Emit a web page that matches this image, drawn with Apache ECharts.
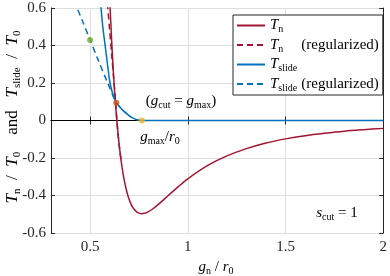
<!DOCTYPE html>
<html><head><meta charset="utf-8">
<script src="https://cdn.jsdelivr.net/npm/echarts@6/dist/echarts.min.js"></script>
<style>html,body{margin:0;padding:0;background:#fff}#c{width:390px;height:276px}</style>
</head><body><div id="c"></div>
<script>
// ---- data ----
const xTicks = [0.5, 1, 1.5, 2];
const yTicks = [-0.6, -0.4, -0.2, 0, 0.2, 0.4, 0.6];

// T_n / T_0 (solid)
const gN = [0.595,0.60,0.61,0.62,0.63,0.64,0.65,0.66,0.67,0.68,0.69,0.70,0.71,0.72,0.73,0.74,0.75,0.765,0.78,0.79,0.82,0.86,0.90,0.95,1.00,1.10,1.20,1.30,1.40,1.50,1.60,1.70,1.80,1.90,2.00];
const Tn = [0.80,0.66,0.432,0.243,0.089,-0.038,-0.141,-0.224,-0.291,-0.345,-0.388,-0.421,-0.447,-0.466,-0.479,-0.489,-0.494,-0.497,-0.494,-0.491,-0.472,-0.438,-0.400,-0.354,-0.311,-0.241,-0.189,-0.150,-0.120,-0.098,-0.081,-0.068,-0.057,-0.049,-0.042];

// T_n / T_0 (regularized, dashed)
const gNr = [0.58,0.59,0.60,0.61,0.62,0.631,0.64,0.65,0.66];
const TNr = [0.73,0.607,0.482,0.357,0.232,0.095,-0.038,-0.141,-0.224];

// T_slide / T_0 (solid)
const gS = [0.550,0.556,0.565,0.577,0.589,0.602,0.615,0.625,0.636,0.650,0.670,0.695,0.715,0.740,0.765,1.0,1.5,2.0];
const TS = [0.66,0.60,0.50,0.40,0.30,0.20,0.145,0.115,0.095,0.075,0.052,0.030,0.015,0.004,0,0,0,0];

// T_slide / T_0 (regularized, dashed)
const gSr = [0.42,0.434,0.46,0.50,0.54,0.59,0.615,0.625,0.636,0.650,0.670,0.695];
const TSr = [0.64,0.60,0.533,0.43,0.326,0.20,0.138,0.113,0.095,0.075,0.052,0.030];

// marked points
const ptOrange = [0.634, 0.095];
const ptYellow = [0.765, 0];
const ptGreen  = [0.5, 0.43];
const zeroLine = [[0.3, 0], [2, 0]];

// ---- chart ----
const FF = 'Liberation Serif';
const C_RED = '#A2142F', C_BLUE = '#0072BD', AX = '#262626';
const pairs = (xs, ys) => xs.map((x, i) => [x, ys[i]]);

function richSet(fs, sfs, lh) {
  return {
    i: {fontFamily: FF, fontStyle: 'italic', fontSize: fs, lineHeight: lh, color: '#000'},
    s: {fontFamily: FF, fontSize: sfs, lineHeight: sfs, verticalAlign: 'bottom', color: '#000'},
    r: {fontFamily: FF, fontSize: fs, lineHeight: lh, color: '#000'}
  };
}
const rich15 = richSet(15, 10, 18);
const legRich = Object.assign({}, rich15, {
  sw: {fontFamily: FF, fontSize: 10, lineHeight: 10, verticalAlign: 'bottom', color: '#000', width: 23}
});
const legNames = {
  'Tn': '{i|T}{s|n}',
  'Tn_reg': '{i|T}{sw|n}{r|(regularized)}',
  'Ts': '{i|T}{s|slide}',
  'Ts_reg': '{i|T}{sw|slide}{r|(regularized)}'
};

const tickFmt = v => (Math.abs(v) < 1e-9 ? '0' : (Math.round(v * 10) / 10).toString());

const chart = echarts.init(document.getElementById('c'), null, {renderer: 'canvas'});
chart.setOption({
  animation: false,
  backgroundColor: '#fff',
  grid: {left: 51, right: 6, top: 8, bottom: 43, show: false},
  xAxis: [{
    type: 'value', min: 0.3, max: 2, position: 'bottom',
    axisLine: {lineStyle: {color: AX, width: 1}},
    axisTick: {inside: true, length: 4, customValues: xTicks, lineStyle: {color: AX}},
    axisLabel: {customValues: xTicks, fontFamily: FF, fontSize: 15, color: AX, margin: 7, formatter: tickFmt},
    splitLine: {show: true, lineStyle: {color: '#dedede', width: 1}}
  }, {
    type: 'value', min: 0.3, max: 2, position: 'top',
    axisLine: {lineStyle: {color: AX, width: 1}},
    axisTick: {inside: true, length: 4, customValues: xTicks, lineStyle: {color: AX}},
    axisLabel: {show: false}, splitLine: {show: false}
  }],
  yAxis: [{
    type: 'value', min: -0.6, max: 0.6, interval: 0.2, position: 'left',
    axisLine: {show: true, lineStyle: {color: AX, width: 1}},
    axisTick: {show: true, inside: true, length: 4, lineStyle: {color: AX}},
    axisLabel: {fontFamily: FF, fontSize: 15, color: AX, margin: 5, formatter: tickFmt},
    splitLine: {show: true, lineStyle: {color: '#dedede', width: 1}}
  }, {
    type: 'value', min: -0.6, max: 0.6, interval: 0.2, position: 'right',
    axisLine: {show: true, lineStyle: {color: AX, width: 1}},
    axisTick: {show: true, inside: true, length: 4, lineStyle: {color: AX}},
    axisLabel: {show: false}, splitLine: {show: false}
  }],
  legend: {
    left: 233, top: 15, orient: 'vertical',
    itemWidth: 28, itemHeight: 14, itemGap: 3,
    padding: [3, 4, 2, 3],
    borderColor: AX, borderWidth: 1, backgroundColor: '#fff',
    itemStyle: {color: 'rgba(0,0,0,0)', borderWidth: 0, opacity: 0},
    data: ['Tn', 'Tn_reg', 'Ts', 'Ts_reg'],
    formatter: n => legNames[n],
    textStyle: {rich: legRich}
  },
  series: [
    {name: 'zero', type: 'line', data: zeroLine, symbol: 'none', silent: true,
     lineStyle: {color: '#000', width: 1.2}, z: 1},
    {name: 'Tn', type: 'line', data: pairs(gN, Tn), symbol: 'none', smooth: 0.3,
     lineStyle: {color: C_RED, width: 1.5}, itemStyle: {color: C_RED}, z: 2},
    {name: 'Tn_reg', type: 'line', data: pairs(gNr, TNr), symbol: 'none', smooth: 0.3,
     lineStyle: {color: C_RED, width: 1.5, type: [6, 4]}, itemStyle: {color: C_RED}, z: 3},
    {name: 'Ts', type: 'line', data: pairs(gS, TS), symbol: 'none', smooth: 0.3,
     lineStyle: {color: C_BLUE, width: 1.5}, itemStyle: {color: C_BLUE}, z: 4},
    {name: 'Ts_reg', type: 'line', data: pairs(gSr, TSr), symbol: 'none', smooth: 0.3,
     lineStyle: {color: C_BLUE, width: 1.5, type: [6, 4]}, itemStyle: {color: C_BLUE}, z: 5},
    {name: 'pts', type: 'scatter', symbolSize: 6, z: 6, silent: true,
     data: [
       {value: ptOrange, itemStyle: {color: '#D95319'}},
       {value: ptYellow, itemStyle: {color: '#EDB120'}},
       {value: ptGreen, itemStyle: {color: '#77AC30'}}
     ]}
  ],
  graphic: [
    {type: 'text', x: 181, y: 101, z: 10,
     style: {text: '{r|(}{i|g}{s|cut}{r| = }{i|g}{s|max}{r|)}', rich: rich15, align: 'center', verticalAlign: 'middle'}},
    {type: 'text', x: 160, y: 137, z: 10,
     style: {text: '{i|g}{s|max}{r|/}{i|r}{s|0}', rich: rich15, align: 'center', verticalAlign: 'middle'}},
    {type: 'text', x: 337, y: 213, z: 10,
     style: {text: '{i|s}{s|cut}{r| = 1}', rich: rich15, align: 'center', verticalAlign: 'middle'}},
    {type: 'text', x: 216, y: 267, z: 10,
     style: {text: '{i|g}{s|n}{r| / }{i|r}{s|0}', rich: rich15, align: 'center', verticalAlign: 'middle'}},
    {type: 'text', x: 13, y: 117, rotation: Math.PI / 2, z: 10,
     style: {text: '{i|T}{s|n}{r|  /  }{i|T}{s|0}{r|    and   }{i|T}{s|slide}{r|  /  }{i|T}{s|0}',
             rich: richSet(17, 11, 20), align: 'center', verticalAlign: 'middle'}}
  ]
});
</script>
</body></html>
